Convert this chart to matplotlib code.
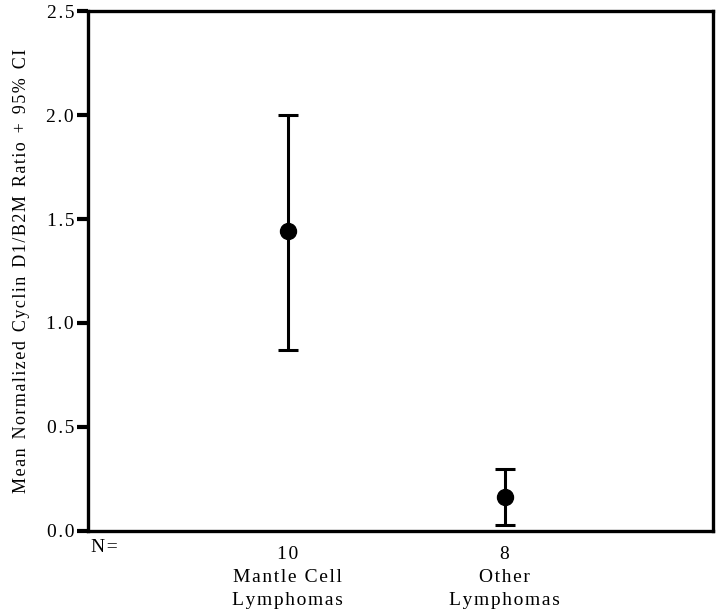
import matplotlib.pyplot as plt

# group data
groups = ["Mantle Cell\nLymphomas", "Other\nLymphomas"]
n_counts = [10, 8]
means = [1.44, 0.165]
ci_low = [0.87, 0.03]
ci_high = [2.0, 0.30]
y_ticks = [0.0, 0.5, 1.0, 1.5, 2.0, 2.5]

plt.rcParams['font.family'] = ['Liberation Serif', 'DejaVu Serif']


def spaced(s):
    # loose letter spacing like the scanned original
    return "\n".join("\u200a".join(line) for line in s.split("\n"))


fig = plt.figure(figsize=(7.2, 6.15), dpi=100)
ax = fig.add_axes([0.1222, 0.1366, 0.8680, 0.8455])

xs = list(range(1, len(groups) + 1))
lower = [m - lo for m, lo in zip(means, ci_low)]
upper = [hi - m for m, hi in zip(means, ci_high)]
ax.errorbar(xs, means, yerr=[lower, upper], fmt='o', color='black',
            markersize=11.5, elinewidth=2.2, capsize=7, capthick=2.2)

ax.set_xlim(0.08, 2.96)
ax.set_ylim(0, 2.5)
ax.set_yticks(y_ticks)
ax.set_yticklabels([spaced(f"{v:.1f}") for v in y_ticks], fontsize=14)
ax.set_xticks(xs)
ax.set_xticklabels([spaced(f"{n}\n{g}") for n, g in zip(n_counts, groups)],
                   fontsize=14, linespacing=1.45)
ax.tick_params(axis='x', length=0, pad=11)
ax.tick_params(axis='y', length=8, width=3, direction='out', pad=2)

for s in ax.spines.values():
    s.set_linewidth(2.4)

ax.annotate(spaced("N="), xy=(0.0, 0.0), xycoords='axes fraction',
            xytext=(16, -17), textcoords='offset pixels',
            ha='center', va='center', fontsize=14)

ax.set_ylabel("M e a n  N o r m a l i z e d  C y c l i n  D 1 / B 2 M  R a t i o  +  9 5 %  C I"
              .replace("  ", "\u2002").replace(" ", "\u200a"),
              fontsize=13, labelpad=12)

fig.savefig("out.png", dpi=100)
